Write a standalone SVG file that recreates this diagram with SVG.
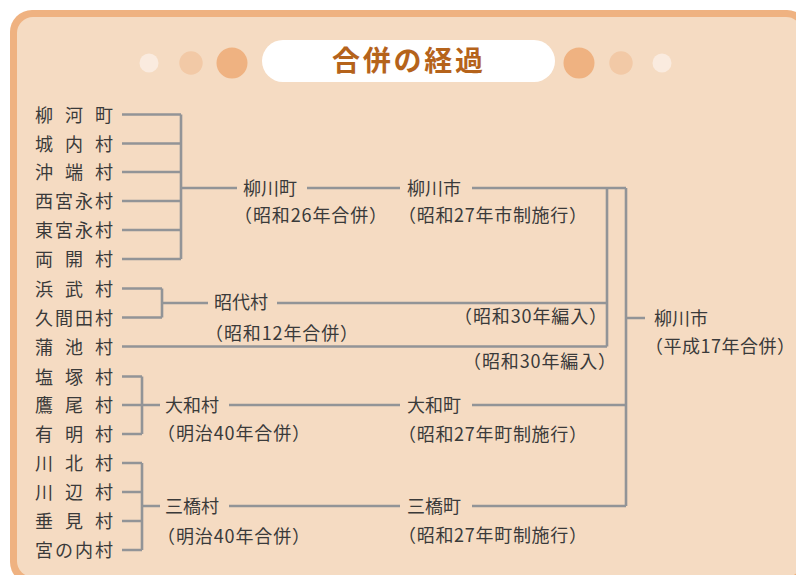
<svg xmlns="http://www.w3.org/2000/svg" width="796" height="575" viewBox="0 0 796 575">
<style>
.t{font-family:"Noto Sans CJK JP","Noto Sans",sans-serif;font-size:18px;fill:#3a3a3a}
.n{font-family:"Noto Sans CJK JP","Noto Sans",sans-serif;font-size:18px;fill:#3a3a3a}
.c{fill:none;stroke:#929497;stroke-width:2.6;stroke-linejoin:miter}
.title{font-family:"Noto Sans CJK JP","Noto Sans",sans-serif;font-size:28px;font-weight:bold;fill:#B5631B}
</style>
<rect x="10" y="10" width="799" height="574" rx="22" fill="#EFB281"/>
<rect x="17" y="17" width="785" height="560" rx="16" fill="#F5DBC2"/>
<g id="title">
<circle cx="149" cy="63" r="9.5" fill="#FAEBDF"/>
<circle cx="191" cy="63" r="11.7" fill="#F2C9A6"/>
<circle cx="232" cy="63" r="15.5" fill="#EFB281"/>
<circle cx="579" cy="63" r="15.5" fill="#EFB281"/>
<circle cx="621" cy="63" r="11.7" fill="#F2C9A6"/>
<circle cx="662" cy="63" r="9.5" fill="#FAEBDF"/>
<rect x="262" y="40" width="293" height="42" rx="21" fill="#FFFFFF"/>
<text class="title" x="332" y="71" textLength="151" lengthAdjust="spacing">合併の経過</text>
</g>
<g id="connectors">
<path class="c" d="M122 114.5H181M122 143.5H181M122 172H181M122 201H181M122 230H181M122 259H181M181 114.5V259M181 188H237M307 188H400M472 188H626"/>
<path class="c" d="M122 288.5H162M122 317.5H162M162 288.5V317.5M162 303H208M277 303H607"/>
<path class="c" d="M122 346.5H607M607 188V346.5"/>
<path class="c" d="M122 376.5H142M122 405H142M122 434H142M142 376.5V434M142 405H160M229 405H400M472 405H626"/>
<path class="c" d="M122 463H142M122 492H142M122 521H142M122 550H142M142 463V550M142 506H160M229 506H400M472 506H626"/>
<path class="c" d="M626 188V506M626 318H645"/>
</g>
<g id="n-yanagawamachi-old"><text class="n" x="35" y="121.5" textLength="78" lengthAdjust="spacing">柳 河 町</text></g>
<g id="n-jonai"><text class="n" x="35" y="150.5" textLength="78" lengthAdjust="spacing">城 内 村</text></g>
<g id="n-okinohata"><text class="n" x="35" y="179" textLength="78" lengthAdjust="spacing">沖 端 村</text></g>
<g id="n-nishimiyanaga"><text class="n" x="35" y="208" textLength="78" lengthAdjust="spacing">西宮永村</text></g>
<g id="n-higashimiyanaga"><text class="n" x="35" y="237" textLength="78" lengthAdjust="spacing">東宮永村</text></g>
<g id="n-ryokai"><text class="n" x="35" y="266" textLength="78" lengthAdjust="spacing">両 開 村</text></g>
<g id="n-hamatake"><text class="n" x="35" y="295.5" textLength="78" lengthAdjust="spacing">浜 武 村</text></g>
<g id="n-kumada"><text class="n" x="35" y="324.5" textLength="78" lengthAdjust="spacing">久間田村</text></g>
<g id="n-kamachi"><text class="n" x="35" y="353.5" textLength="78" lengthAdjust="spacing">蒲 池 村</text></g>
<g id="n-shiozuka"><text class="n" x="35" y="383.5" textLength="78" lengthAdjust="spacing">塩 塚 村</text></g>
<g id="n-takao"><text class="n" x="35" y="412" textLength="78" lengthAdjust="spacing">鷹 尾 村</text></g>
<g id="n-ariake"><text class="n" x="35" y="441" textLength="78" lengthAdjust="spacing">有 明 村</text></g>
<g id="n-kawakita"><text class="n" x="35" y="470" textLength="78" lengthAdjust="spacing">川 北 村</text></g>
<g id="n-kawabe"><text class="n" x="35" y="499" textLength="78" lengthAdjust="spacing">川 辺 村</text></g>
<g id="n-tarumi"><text class="n" x="35" y="528" textLength="78" lengthAdjust="spacing">垂 見 村</text></g>
<g id="n-miyanouchi"><text class="n" x="35" y="557" textLength="78" lengthAdjust="spacing">宮の内村</text></g>
<g id="n-yanagawamachi"><text class="t" x="243" y="194.5">柳川町</text><text class="t" x="234" y="221.5" textLength="153" lengthAdjust="spacing">（昭和26年合併）</text></g>
<g id="n-yanagawashi1952"><text class="t" x="407" y="194.5">柳川市</text><text class="t" x="398" y="221.5" textLength="189" lengthAdjust="spacing">（昭和27年市制施行）</text></g>
<g id="n-shodai"><text class="t" x="214" y="309">昭代村</text><text class="t" x="205" y="339.5" textLength="153" lengthAdjust="spacing">（昭和12年合併）</text></g>
<g id="n-hennyu1"><text class="t" x="454" y="323" textLength="153" lengthAdjust="spacing">（昭和30年編入）</text></g>
<g id="n-hennyu2"><text class="t" x="463" y="368" textLength="153" lengthAdjust="spacing">（昭和30年編入）</text></g>
<g id="n-yanagawashi"><text class="t" x="654" y="324.5">柳川市</text><text class="t" x="645" y="353" textLength="150" lengthAdjust="spacing">（平成17年合併）</text></g>
<g id="n-yamatomura"><text class="t" x="165" y="411.5">大和村</text><text class="t" x="157" y="439.5" textLength="153" lengthAdjust="spacing">（明治40年合併）</text></g>
<g id="n-yamatomachi"><text class="t" x="407" y="411.5">大和町</text><text class="t" x="398" y="440.5" textLength="189" lengthAdjust="spacing">（昭和27年町制施行）</text></g>
<g id="n-mitsuhashimura"><text class="t" x="165" y="512.5">三橋村</text><text class="t" x="157" y="543" textLength="153" lengthAdjust="spacing">（明治40年合併）</text></g>
<g id="n-mitsuhashimachi"><text class="t" x="407" y="512.5">三橋町</text><text class="t" x="398" y="541.5" textLength="189" lengthAdjust="spacing">（昭和27年町制施行）</text></g>
</svg>
